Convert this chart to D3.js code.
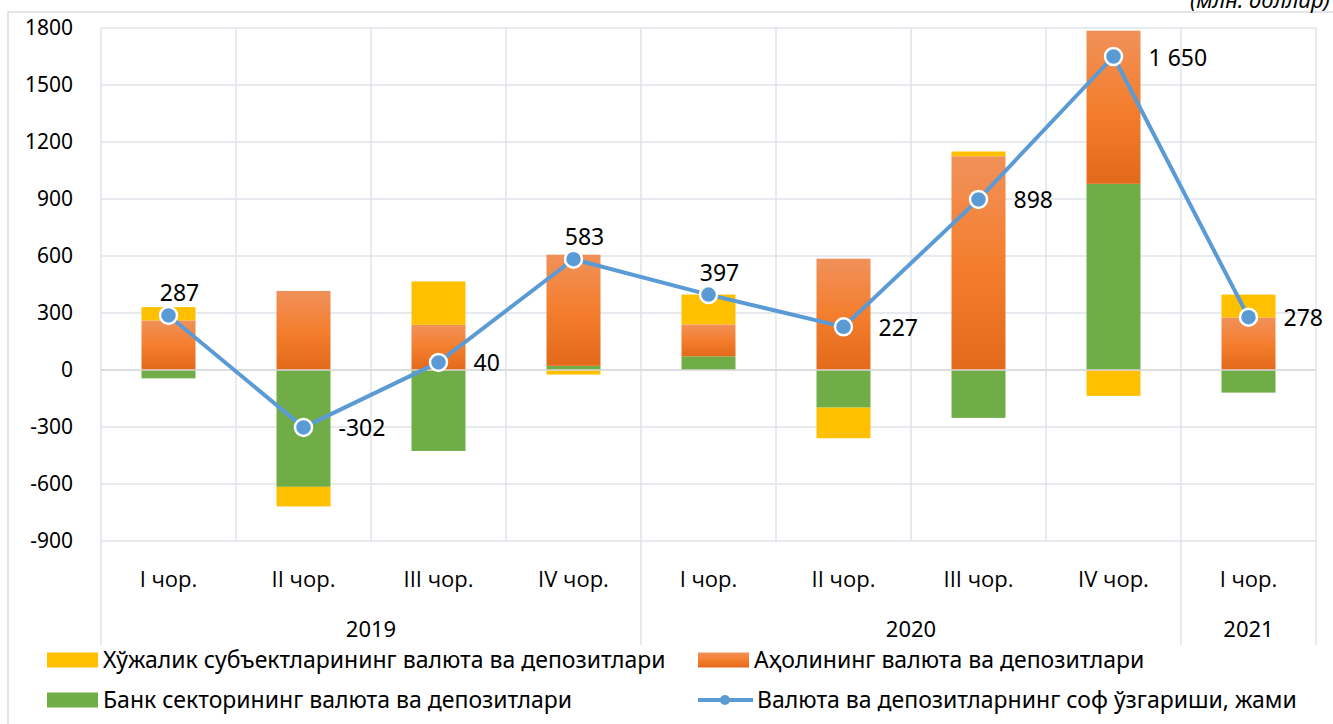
<!DOCTYPE html>
<html>
<head>
<meta charset="utf-8">
<script src="https://cdn.jsdelivr.net/npm/d3@7"></script>
<style>
  body { margin: 0; background: #fff; }
  text { font-family: "Noto Sans", "DejaVu Sans", sans-serif; fill: #000; }
  .cat text { font-family: "Open Sans", "Liberation Sans", sans-serif; }
</style>
</head>
<body>
<div id="chart"></div>
<script>
// data (млн. доллар)
var quarters = ["I чор.", "II чор.", "III чор.", "IV чор.", "I чор.", "II чор.", "III чор.", "IV чор.", "I чор."];
var years = [
    { label: "2019", from: 0, to: 4 },
    { label: "2020", from: 4, to: 8 },
    { label: "2021", from: 8, to: 9 }
];
var business = [70, -103, 228, -24, 157, -161, 25, -136, 120];   // Хўжалик субъектлари
var households = [261, 416, 238, 585, 168, 586, 1125, 806, 277]; // Аҳоли
var banks = [-44, -615, -426, 22, 72, -198, -252, 980, -119];    // Банк сектори
var netChange = [287, -302, 40, 583, 397, 227, 898, 1650, 278];
var netLabels = ["287", "-302", "40", "583", "397", "227", "898", "1 650", "278"];
var yTicks = [-900, -600, -300, 0, 300, 600, 900, 1200, 1500, 1800];

var width = 1333;
var height = 724;

var plotLeft = 101, plotRight = 1316, plotTop = 28, plotBottom = 541;

var svg = d3.select("#chart")
    .append("svg")
    .attr("width", width)
    .attr("height", height);

var defs = svg.append("defs");
var grad = defs.append("linearGradient")
    .attr("id", "orangeGrad")
    .attr("x1", 0).attr("y1", 0)
    .attr("x2", 0).attr("y2", 1);
grad.append("stop").attr("offset", "0%").attr("stop-color", "#F0915A");
grad.append("stop").attr("offset", "50%").attr("stop-color", "#F47E2E");
grad.append("stop").attr("offset", "100%").attr("stop-color", "#E3691B");

var x = d3.scaleBand()
    .domain(d3.range(quarters.length))
    .range([plotLeft, plotRight])
    .paddingInner(0.6)
    .paddingOuter(0.3);

var step = x.step();

var y = d3.scaleLinear()
    .domain([-900, 1800])
    .range([plotBottom, plotTop]);

var gridColor = "#DFE3EA";

// outer frame
svg.append("rect")
    .attr("x", 8).attr("y", 12)
    .attr("width", 1400).attr("height", 800)
    .attr("fill", "none")
    .attr("stroke", "#D9DDE3")
    .attr("stroke-width", 1.5);

// horizontal gridlines
svg.append("g")
    .selectAll("line")
    .data(yTicks)
    .enter()
    .append("line")
    .attr("x1", plotLeft).attr("x2", plotRight)
    .attr("y1", function (d) { return y(d); })
    .attr("y2", function (d) { return y(d); })
    .attr("stroke", gridColor)
    .attr("stroke-width", 1.5);

// vertical gridlines, year boundaries run down through the labels
var yearEdges = [0, 4, 8, 9];
svg.append("g")
    .selectAll("line")
    .data(d3.range(quarters.length + 1))
    .enter()
    .append("line")
    .attr("x1", function (d) { return plotLeft + d * step; })
    .attr("x2", function (d) { return plotLeft + d * step; })
    .attr("y1", plotTop)
    .attr("y2", function (d) { return yearEdges.indexOf(d) >= 0 ? 645 : plotBottom; })
    .attr("stroke", gridColor)
    .attr("stroke-width", 1.5);

// y axis labels
svg.append("g")
    .selectAll("text")
    .data(yTicks)
    .enter()
    .append("text")
    .attr("x", 73)
    .attr("y", function (d) { return y(d) + 7; })
    .attr("text-anchor", "end")
    .attr("font-size", "21px")
    .text(function (d) { return d; });

// category labels
svg.append("g")
    .attr("class", "cat")
    .selectAll("text")
    .data(quarters)
    .enter()
    .append("text")
    .attr("x", function (d, i) { return x(i) + x.bandwidth() / 2; })
    .attr("y", 587)
    .attr("text-anchor", "middle")
    .attr("font-size", "22px")
    .text(function (d) { return d; });

svg.append("g")
    .selectAll("text")
    .data(years)
    .enter()
    .append("text")
    .attr("x", function (d) { return plotLeft + (d.from + d.to) / 2 * step; })
    .attr("y", 637)
    .attr("text-anchor", "middle")
    .attr("font-size", "22px")
    .text(function (d) { return d.label; });

// stacked bars
var rows = quarters.map(function (q, i) {
    return { i: i, banks: banks[i], households: households[i], business: business[i] };
});
var keys = ["banks", "households", "business"];
var colors = { banks: "#70AD47", households: "url(#orangeGrad)", business: "#FFC000" };

var series = d3.stack()
    .keys(keys)
    .offset(d3.stackOffsetDiverging)(rows);

svg.append("g")
    .selectAll("g")
    .data(series)
    .enter()
    .append("g")
    .attr("fill", function (d) { return colors[d.key]; })
    .selectAll("rect")
    .data(function (d) { return d; })
    .enter()
    .append("rect")
    .attr("x", function (d) { return x(d.data.i); })
    .attr("width", x.bandwidth())
    .attr("y", function (d) { return y(Math.max(d[0], d[1])); })
    .attr("height", function (d) { return Math.abs(y(d[0]) - y(d[1])); });

// zero line over the bars
svg.append("line")
    .attr("x1", plotLeft).attr("x2", plotRight)
    .attr("y1", y(0)).attr("y2", y(0))
    .attr("stroke", "#D9D9D9")
    .attr("stroke-width", 1.5);

// net change line
var line = d3.line()
    .x(function (d, i) { return x(i) + x.bandwidth() / 2; })
    .y(function (d) { return y(d); });

svg.append("path")
    .datum(netChange)
    .attr("d", line)
    .attr("fill", "none")
    .attr("stroke", "#5B9BD5")
    .attr("stroke-width", 4)
    .attr("stroke-linejoin", "round");

svg.append("g")
    .selectAll("circle")
    .data(netChange)
    .enter()
    .append("circle")
    .attr("cx", function (d, i) { return x(i) + x.bandwidth() / 2; })
    .attr("cy", function (d) { return y(d); })
    .attr("r", 8.5)
    .attr("fill", "#5B9BD5")
    .attr("stroke", "#fff")
    .attr("stroke-width", 2.5);

// data labels: above or to the right of the marker
var labelSide = ["top", "right", "right", "top", "top", "right", "right", "right", "right"];
svg.append("g")
    .selectAll("text")
    .data(netChange)
    .enter()
    .append("text")
    .attr("x", function (d, i) {
        var cx = x(i) + x.bandwidth() / 2;
        return labelSide[i] == "top" ? cx + 11 : cx + 35;
    })
    .attr("y", function (d, i) {
        return labelSide[i] == "top" ? y(d) - 14 : y(d) + 9;
    })
    .attr("text-anchor", function (d, i) { return labelSide[i] == "top" ? "middle" : "start"; })
    .attr("font-size", "23px")
    .text(function (d, i) { return netLabels[i]; });

// unit
svg.append("text")
    .attr("x", 1330)
    .attr("y", 8)
    .attr("text-anchor", "end")
    .attr("font-size", "22px")
    .attr("font-style", "italic")
    .text("(млн. доллар)");

// legend
var legend = svg.append("g").attr("class", "legend");
var legendItems = [
    { name: "Хўжалик субъектларининг валюта ва депозитлари", type: "rect", fill: "#FFC000", x: 47, y: 660 },
    { name: "Аҳолининг валюта ва депозитлари", type: "rect", fill: "url(#orangeGrad)", x: 698, y: 660 },
    { name: "Банк секторининг валюта ва депозитлари", type: "rect", fill: "#70AD47", x: 47, y: 700 },
    { name: "Валюта ва депозитларнинг соф ўзгариши, жами", type: "line", fill: "#5B9BD5", x: 698, y: 700 }
];

legendItems.forEach(function (d) {
    var g = legend.append("g")
        .attr("transform", "translate(" + d.x + "," + d.y + ")");
    if (d.type == "rect") {
        g.append("rect")
            .attr("x", 0).attr("y", -7.5)
            .attr("width", 51).attr("height", 15)
            .attr("fill", d.fill);
    } else {
        g.append("line")
            .attr("x1", 0).attr("x2", 55)
            .attr("y1", 0).attr("y2", 0)
            .attr("stroke", d.fill)
            .attr("stroke-width", 4);
        g.append("circle")
            .attr("cx", 27).attr("cy", 0).attr("r", 5)
            .attr("fill", d.fill);
    }
    g.append("text")
        .attr("x", d.type == "rect" ? 56 : 59)
        .attr("y", 8)
        .attr("font-size", "23px")
        .text(d.name);
});
</script>
</body>
</html>
